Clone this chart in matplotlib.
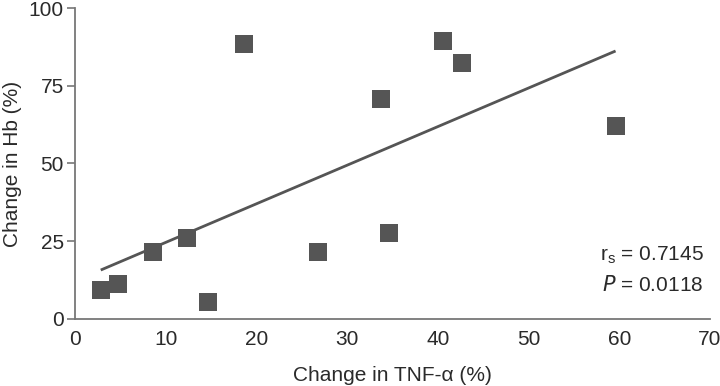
import matplotlib
matplotlib.use("Agg")
import matplotlib.pyplot as plt

tnf_change = [2.9, 4.7, 8.6, 12.4, 14.7, 18.6, 26.8, 33.7, 34.6, 40.6, 42.7, 59.6]
hb_change = [9.3, 11.2, 21.4, 26.0, 5.4, 88.5, 21.5, 70.8, 27.5, 89.4, 82.4, 62.2]
fit_x = [2.85, 59.6]
fit_y = [15.7, 86.2]
x_ticks = [0, 10, 20, 30, 40, 50, 60, 70]
y_ticks = [0, 25, 50, 75, 100]

plt.rcParams['font.family'] = ['Liberation Sans', 'DejaVu Sans']
txt = '#2a2a2a'
fs = 15
fig = plt.figure(figsize=(7.2, 3.86), dpi=100)
ax = fig.add_axes([0.104, 0.174, 0.882, 0.805])

ax.plot(fit_x, fit_y, color='#555555', lw=2.0, solid_capstyle='butt', zorder=2)
ax.plot(tnf_change, hb_change, linestyle='none', marker='s', markersize=12.5,
        color='#555555', markeredgewidth=0, zorder=3)

ax.set_xlim(0, 70)
ax.set_ylim(0, 100)
ax.set_xticks(x_ticks)
ax.set_yticks(y_ticks)
for s in ['top', 'right']:
    ax.spines[s].set_visible(False)
for s in ['left', 'bottom']:
    ax.spines[s].set_color('#777777')
    ax.spines[s].set_linewidth(1.3)
ax.tick_params(axis='y', length=6, width=1.2, color='#777777', labelsize=fs, labelcolor=txt, pad=2)
ax.tick_params(axis='x', length=0, labelsize=fs, labelcolor=txt, pad=8)
ax.set_xlabel('Change in TNF-α (%)', fontsize=fs, color=txt, labelpad=12)
ax.set_ylabel('Change in Hb (%)', fontsize=fs, color=txt, labelpad=5)

ax.text(0.99, 0.205, r'r$_{\mathregular{s}}$ = 0.7145', transform=ax.transAxes,
        ha='right', va='center', fontsize=fs, color=txt)
ax.text(0.99, 0.11, r'$\mathit{P}$ = 0.0118', transform=ax.transAxes,
        ha='right', va='center', fontsize=fs, color=txt)

fig.savefig('out.png', dpi=100)
